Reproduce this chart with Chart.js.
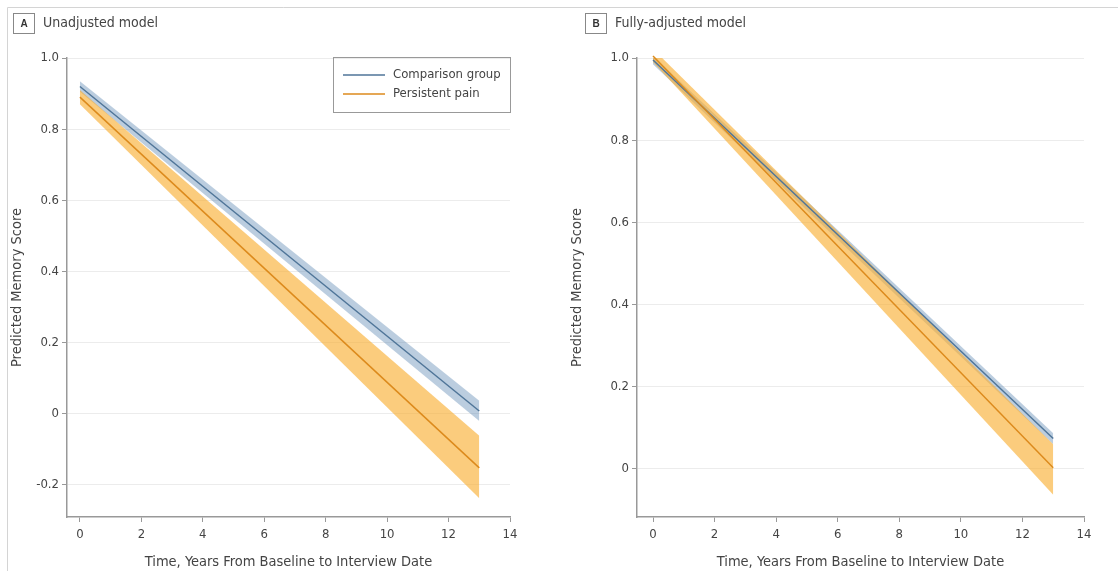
<!DOCTYPE html>
<html>
<head>
<meta charset="utf-8">
<script src="https://cdn.jsdelivr.net/npm/chart.js@4.4.1/dist/chart.umd.min.js"></script>
<style>
  html, body { margin: 0; padding: 0; background: #fff; overflow: hidden; width: 1118px; height: 571px; }
  #wrapA { position: absolute; left: 0; top: 0; width: 560px; height: 571px; }
  #wrapB { position: absolute; left: 560px; top: 0; width: 580px; height: 571px; }
</style>
</head>
<body>
<div id="wrapA"><canvas id="chartA"></canvas></div>
<div id="wrapB"><canvas id="chartB"></canvas></div>
<script>
// time in years from baseline
const years = [0, 13];
const xTicks = [0, 2, 4, 6, 8, 10, 12, 14];

// A: unadjusted model
const aComparison = [0.92, 0.008];
const aComparisonLow = [0.905, -0.02];
const aComparisonHigh = [0.935, 0.037];
const aPain = [0.89, -0.152];
const aPainLow = [0.87, -0.237];
const aPainHigh = [0.91, -0.062];
const aYTicks = [-0.2, 0, 0.2, 0.4, 0.6, 0.8, 1.0];

// B: fully-adjusted model
const bComparison = [0.995, 0.074];
const bComparisonLow = [0.985, 0.06];
const bComparisonHigh = [1.005, 0.087];
const bPain = [1.005, 0.003];
const bPainLow = [0.99, -0.063];
const bPainHigh = [1.022, 0.06];
const bYTicks = [0, 0.2, 0.4, 0.6, 0.8, 1.0];

const seriesNames = ['Comparison group', 'Persistent pain'];
const lineColors = ['#4f7598', '#dc8a1c'];
const bandColors = ['rgba(105,145,185,0.45)', 'rgba(249,176,55,0.65)'];

Chart.defaults.font.family = "'Liberation Sans Narrow', 'DejaVu Sans Condensed', 'Liberation Sans', sans-serif";
Chart.defaults.color = '#444';

const pts = vals => years.map((x, i) => ({ x: x, y: vals[i] }));
const fmt = v => (v === 0 ? '0' : v.toFixed(1));

function buildDatasets(comp, compLo, compHi, pain, painLo, painHi) {
  return [
    { data: pts(compHi), borderWidth: 0, pointRadius: 0, fill: false, order: 5 },
    { data: pts(compLo), borderWidth: 0, pointRadius: 0, fill: '-1', backgroundColor: bandColors[0], order: 4 },
    { data: pts(painHi), borderWidth: 0, pointRadius: 0, fill: false, order: 3 },
    { data: pts(painLo), borderWidth: 0, pointRadius: 0, fill: '-1', backgroundColor: bandColors[1], order: 2 },
    { label: seriesNames[0], data: pts(comp), borderColor: lineColors[0], borderWidth: 1.5, pointRadius: 0, fill: false, order: 1 },
    { label: seriesNames[1], data: pts(pain), borderColor: lineColors[1], borderWidth: 1.5, pointRadius: 0, fill: false, order: 0 }
  ];
}

function decor(letter, title, boxX, frameLeft, showLegend) {
  return {
    id: 'decor' + letter,
    afterDraw(chart) {
      const ctx = chart.ctx;
      ctx.save();
      ctx.strokeStyle = '#d4d4d4';
      ctx.lineWidth = 1;
      ctx.beginPath();
      ctx.moveTo(frameLeft ? 7.5 : 0, 7.5);
      ctx.lineTo(chart.width, 7.5);
      if (frameLeft) {
        ctx.moveTo(7.5, 7.5);
        ctx.lineTo(7.5, chart.height);
      }
      ctx.stroke();

      ctx.strokeStyle = '#888';
      ctx.strokeRect(boxX + 0.5, 13.5, 21, 20);
      ctx.fillStyle = '#333';
      ctx.font = "bold 10px 'Liberation Sans', sans-serif";
      ctx.textAlign = 'center';
      ctx.textBaseline = 'middle';
      ctx.fillText(letter, boxX + 11, 24);
      ctx.font = "14px " + Chart.defaults.font.family;
      ctx.textAlign = 'left';
      ctx.fillStyle = '#444';
      ctx.fillText(title, boxX + 30, 23);

      if (showLegend) {
        const lx = 333, ly = 57;
        ctx.strokeStyle = '#999';
        ctx.lineWidth = 1;
        ctx.strokeRect(lx + 0.5, ly + 0.5, 177, 55);
        seriesNames.forEach((name, i) => {
          const y = ly + 18 + i * 19;
          ctx.strokeStyle = lineColors[i];
          ctx.lineWidth = 1.5;
          ctx.beginPath();
          ctx.moveTo(lx + 10, y);
          ctx.lineTo(lx + 52, y);
          ctx.stroke();
          ctx.fillStyle = '#444';
          ctx.font = "13px " + Chart.defaults.font.family;
          ctx.fillText(name, lx + 60, y);
        });
      }
      ctx.restore();
    }
  };
}

function makeChart(id, datasets, xMin, yMin, yTicks, yAxisWidth, padRight, plugin) {
  return new Chart(document.getElementById(id), {
    type: 'line',
    data: { datasets: datasets },
    options: {
      responsive: true,
      maintainAspectRatio: false,
      animation: false,
      layout: { padding: { top: 58, left: 0, right: padRight, bottom: 0 } },
      plugins: { legend: { display: false }, tooltip: { enabled: false } },
      scales: {
        x: {
          type: 'linear',
          min: xMin,
          max: 14,
          afterBuildTicks: s => { s.ticks = xTicks.map(v => ({ value: v })); },
          afterFit: s => { s.height = 54; },
          ticks: { font: { size: 13 }, maxRotation: 0, padding: 5 },
          grid: { drawOnChartArea: false, tickLength: 5, tickColor: '#999' },
          border: { color: '#999', width: 1.5 },
          title: { display: true, text: 'Time, Years From Baseline to Interview Date', font: { size: 14.5 }, padding: { top: 0, bottom: 0 } }
        },
        y: {
          min: yMin,
          max: 1.0,
          afterBuildTicks: s => { s.ticks = yTicks.map(v => ({ value: v })); },
          afterFit: s => { s.width = yAxisWidth; },
          ticks: { font: { size: 13 }, padding: 3, callback: v => fmt(v) },
          grid: { color: '#ececec', tickLength: 5, tickColor: '#999' },
          border: { color: '#999', width: 1.5 },
          title: { display: true, text: 'Predicted Memory Score', font: { size: 14.5 }, padding: { top: 9, bottom: 0 } }
        }
      }
    },
    plugins: [plugin]
  });
}

makeChart('chartA',
  buildDatasets(aComparison, aComparisonLow, aComparisonHigh, aPain, aPainLow, aPainHigh),
  -0.42, -0.29, aYTicks, 67, 50,
  decor('A', 'Unadjusted model', 13, true, true));

makeChart('chartB',
  buildDatasets(bComparison, bComparisonLow, bComparisonHigh, bPain, bPainLow, bPainHigh).map(d => Object.assign(d, { clip: false })),
  -0.52, -0.117, bYTicks, 77, 56,
  decor('B', 'Fully-adjusted model', 25, false, false));
</script>
</body>
</html>
